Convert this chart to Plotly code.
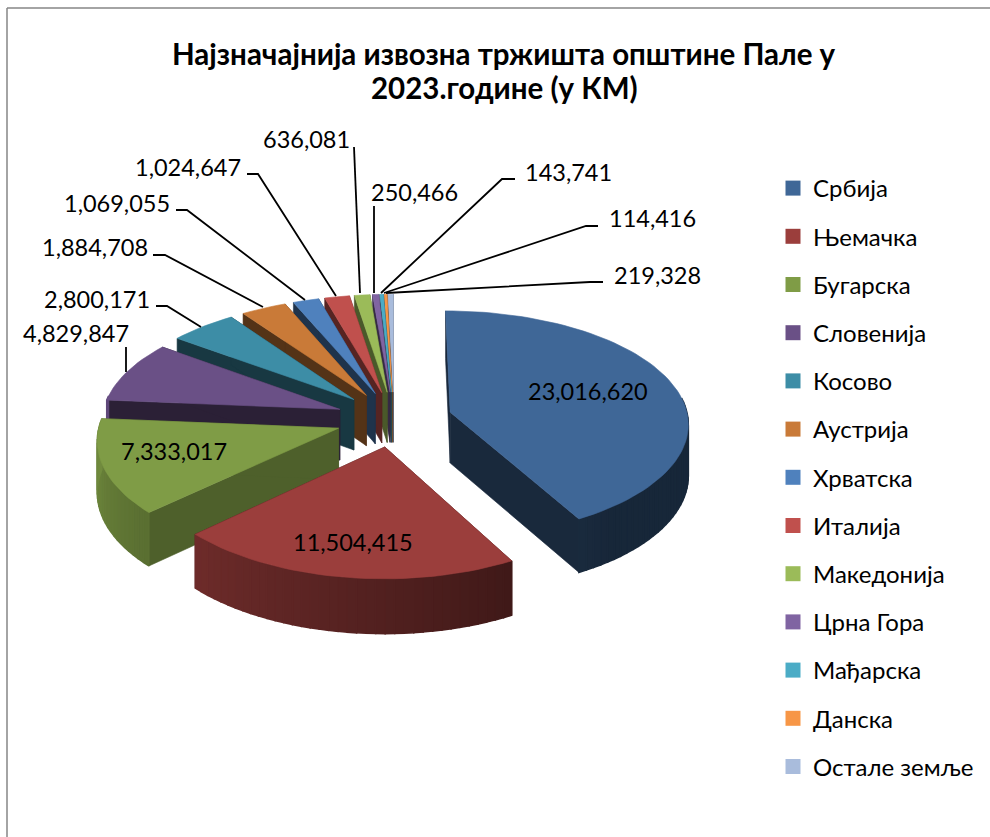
import math
import plotly.graph_objects as go

categories = ["Србија", "Њемачка", "Бугарска", "Словенија", "Косово", "Аустрија", "Хрватска",
              "Италија", "Македонија", "Црна Гора", "Мађарска", "Данска", "Остале земље"]
values = [23016620, 11504415, 7333017, 4829847, 2800171, 1884708, 1069055,
          1024647, 636081, 250466, 143741, 114416, 219328]
colors = ["#3f6797", "#9b3e3c", "#7f9c46", "#6a5086", "#3d8da6", "#c97a38", "#4f81bd",
          "#c0504d", "#9bbb59", "#8064a2", "#4bacc6", "#f79646", "#a9bcdc"]
wall_shades = [0.40, 0.42, 0.62, 0.41, 0.40, 0.42, 0.40, 0.45, 0.48, 0.42, 0.42, 0.45, 0.45]
title_lines = ["Најзначајнија извозна тржишта општине Пале у", "2023.године (у КМ)"]
label_pos = [(588, 391), (353, 542), (174, 451), (76, 333), (97, 299), (95, 247), (117, 203),
             (188, 167), (306, 139), (414, 192), (568, 172), (652, 218), (657, 275)]
leaders = [None, None, None,
           [(126, 347), (126, 372)],
           [(156, 306), (167, 306), (201, 327)],
           [(153, 255), (165, 255), (263, 307)],
           [(176, 210), (187, 210), (305, 300)],
           [(247, 174), (258, 174), (336, 296)],
           [(354, 147), (360, 293)],
           [(374, 206), (374, 293)],
           [(515, 179), (502, 179), (381, 293)],
           [(598, 226), (586, 226), (384, 293)],
           [(603, 282), (590, 282), (386, 293)]]

FONT = "Lato, 'Open Sans', sans-serif"
CX, CY, RX, RY, KX, KY, EXPLODE, DEPTH = 394, 419, 238, 112.7, 0.09, 0.10, 0.245, 51


def project(u, v, z=0.0):
    x = CX + RX * u / (1 + KX * v)
    y = CY - RY * v / (1 + KY * v) + z * DEPTH * (1 - 0.06 * v)
    return x, y


def shade(hex_color, f):
    r, g, b = (int(hex_color[i:i + 2], 16) for i in (1, 3, 5))
    return f"rgb({int(r * f)},{int(g * f)},{int(b * f)})"


def poly(fig, pts, color, width=0.6):
    xs = [p[0] for p in pts] + [pts[0][0]]
    ys = [p[1] for p in pts] + [pts[0][1]]
    fig.add_trace(go.Scatter(x=xs, y=ys, mode="lines", fill="toself", fillcolor=color,
                             line=dict(color=color, width=width), hoverinfo="skip", showlegend=False))


fig = go.Figure()
for name, color in zip(categories, colors):
    fig.add_trace(go.Scatter(x=[None], y=[None], mode="markers", name=name, legendgroup=name,
                             marker=dict(symbol="square", size=15, color=color)))

total = sum(values)
slices = []
angle = 0.0
for i, val in enumerate(values):
    sweep = val / total * 360
    slices.append((i, angle, angle + sweep))
    angle += sweep

slices.sort(key=lambda s: -math.cos(math.radians((s[1] + s[2]) / 2)))
for i, a0, a1 in slices:
    base = colors[i]
    mid = math.radians((a0 + a1) / 2)
    ou, ov = EXPLODE * math.sin(mid), EXPLODE * math.cos(mid)
    n = max(2, int((a1 - a0) / 2))
    thetas = [a0 + (a1 - a0) * k / n for k in range(n + 1)]
    rim = [(ou + math.sin(math.radians(t)), ov + math.cos(math.radians(t))) for t in thetas]
    # radial walls
    for (u, v) in (rim[0], rim[-1]):
        poly(fig, [project(ou, ov), project(u, v), project(u, v, 1), project(ou, ov, 1)],
             shade(base, wall_shades[i]))
    # rim wall, front-facing segments only
    for k in range(n):
        tm = (thetas[k] + thetas[k + 1]) / 2
        if math.cos(math.radians(tm)) < 0.12:
            f = max(0.38, min(0.92, 0.42 + (tm - 153) * 0.00394))
            u0, v0 = rim[k]
            u1, v1 = rim[k + 1]
            poly(fig, [project(u0, v0), project(u1, v1), project(u1, v1, 1), project(u0, v0, 1)],
                 shade(base, f), width=1.5)
    poly(fig, [project(ou, ov)] + [project(u, v) for u, v in rim], base)

for line in leaders:
    if line:
        fig.add_trace(go.Scatter(x=[p[0] for p in line], y=[p[1] for p in line], mode="lines",
                                 line=dict(color="black", width=1.8), hoverinfo="skip", showlegend=False))

annotations = [dict(x=x, y=y, text=f"{v:,}", showarrow=False, xref="x", yref="y",
                    font=dict(family=FONT, size=23.5, color="black"))
               for v, (x, y) in zip(values, label_pos)]
for text, y in zip(title_lines, (53, 87)):
    annotations.append(dict(x=504, y=y, text=f"<b>{text}</b>", showarrow=False, xref="x", yref="y",
                            font=dict(family=FONT, size=29.5, color="black")))

fig.update_layout(
    width=990, height=837, margin=dict(l=0, r=0, t=0, b=0, autoexpand=False),
    paper_bgcolor="white", plot_bgcolor="white",
    xaxis=dict(range=[0, 990], visible=False, fixedrange=True),
    yaxis=dict(range=[837, 0], visible=False, fixedrange=True),
    annotations=annotations,
    shapes=[dict(type="line", x0=7, x1=7, y0=8, y1=837, line=dict(color="#868686", width=1.5)),
            dict(type="line", x0=7, x1=990, y0=8, y1=8, line=dict(color="#868686", width=1.5))],
    legend=dict(x=773 / 990, y=1 - 166 / 837, xanchor="left", yanchor="top",
                font=dict(family=FONT, size=24, color="black"), tracegroupgap=14,
                bgcolor="rgba(0,0,0,0)", itemclick=False, itemdoubleclick=False),
)
fig.write_html("out.html", config={"displayModeBar": False},
               post_script="document.body.style.margin='0';document.documentElement.style.overflow='hidden';")
